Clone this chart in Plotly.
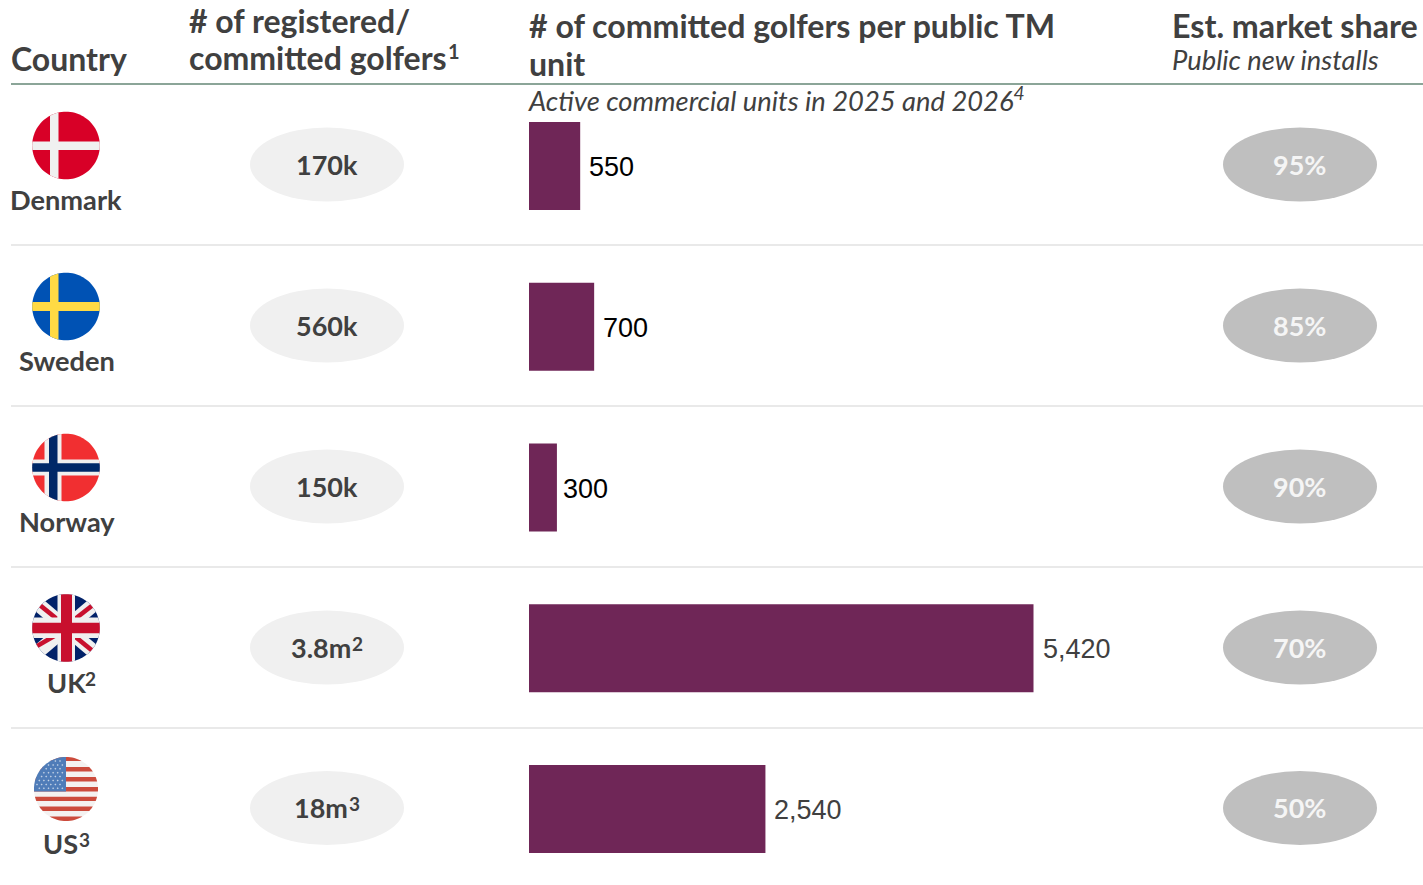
import math
import plotly.graph_objects as go

# Table content
countries = ["Denmark", "Sweden", "Norway", "UK", "US"]
country_labels = ["Denmark", "Sweden", "Norway", "UK", "US"]
country_notes = ["", "", "", "2", "3"]
golfer_labels = ["170k", "560k", "150k", "3.8m", "18m"]
golfer_notes = ["", "", "", "2", "3"]
golfers_per_unit = [550, 700, 300, 5420, 2540]
unit_labels = ["550", "700", "300", "5,420", "2,540"]
unit_label_colors = ["#000000", "#000000", "#000000", "#404040", "#404040"]
market_share = ["95%", "85%", "90%", "70%", "50%"]

W, H = 1423, 885
BAR_LEFT = 529
PX_PER_UNIT = 504.5 / 5420
ROW_TOP = 166
ROW_STEP = 160.75

TEXT = "#404040"
LATO = "Lato"


def polygon(points, color):
    """Filled shape on the page-sized overlay axes."""
    d = "M" + "L".join(f"{x:.2f},{y:.2f}" for x, y in points) + "Z"
    return dict(type="path", path=d, xref="x2", yref="y2", fillcolor=color,
                line=dict(width=0), layer="above")


def clip_to_circle(points, cx, cy, r, n=96):
    """Clip a convex polygon against a fine regular polygon standing in for a circle."""
    out = list(points)
    for k in range(n):
        a = 2 * math.pi * (k + 0.5) / n
        nx, ny = math.cos(a), math.sin(a)

        def reach(p):
            return (p[0] - cx) * nx + (p[1] - cy) * ny - r

        new = []
        for i, cur in enumerate(out):
            prev = out[i - 1]
            dc, dp = reach(cur), reach(prev)
            if (dc <= 0) != (dp <= 0):
                t = dp / (dp - dc)
                new.append((prev[0] + t * (cur[0] - prev[0]), prev[1] + t * (cur[1] - prev[1])))
            if dc <= 0:
                new.append(cur)
        out = new
        if not out:
            break
    return out


def rect(x0, y0, x1, y1):
    return [(x0, y0), (x1, y0), (x1, y1), (x0, y1)]


def band(x0, y0, x1, y1, half):
    """Quadrilateral of half-width `half` along a segment."""
    dx, dy = x1 - x0, y1 - y0
    ln = math.hypot(dx, dy)
    ox, oy = -dy / ln * half, dx / ln * half
    return [(x0 + ox, y0 + oy), (x1 + ox, y1 + oy), (x1 - ox, y1 - oy), (x0 - ox, y0 - oy)]


def flag(layers, cx, cy, r):
    shapes = []
    for pts, color in layers:
        clipped = clip_to_circle(pts, cx, cy, r)
        if len(clipped) > 2:
            shapes.append(polygon(clipped, color))
    return shapes


shapes = []
BIG = 200


def full(cy, cx=66):
    return rect(cx - BIG, cy - BIG, cx + BIG, cy + BIG)


# Nordic crosses
cy = 145.5
shapes += flag([
    (full(cy), "#D80027"),
    (rect(50, cy - BIG, 58.5, cy + BIG), "#F0F0F0"),
    (rect(-BIG, 141.5, BIG, 150), "#F0F0F0"),
], 66, cy, 33.8)

cy = 306.5
shapes += flag([
    (full(cy), "#0052B4"),
    (rect(50, cy - BIG, 58.5, cy + BIG), "#FFDA44"),
    (rect(-BIG, 302, BIG, 311), "#FFDA44"),
], 66, cy, 33.8)

cy = 467.5
shapes += flag([
    (full(cy), "#F12F31"),
    (rect(44.5, cy - BIG, 61.5, cy + BIG), "#F0F0F0"),
    (rect(-BIG, 459.5, BIG, 475.5), "#F0F0F0"),
    (rect(49, cy - BIG, 57.5, cy + BIG), "#002868"),
    (rect(-BIG, 463.3, BIG, 471.7), "#002868"),
], 66, cy, 33.8)

# Union flag
cy = 628
uk = [(full(cy), "#012169")]
for sx, sy in [(1, 1), (1, -1)]:
    uk.append((band(66 - 40 * sx, cy - 34 * sy, 66 + 40 * sx, cy + 34 * sy, 7), "#F0F0F0"))
for x0, y0, x1, y1 in [(-9.3, -9.3, -40, -34), (9.3, -9.3, 40, -33),
                       (-11.7, 8, -40, 24.5), (8.3, 8, 40, 34)]:
    uk.append((band(66 + x0, cy + y0, 66 + x1, cy + y1, 2.3), "#C8102E"))
uk += [
    (rect(57.5, cy - BIG, 75, cy + BIG), "#F0F0F0"),
    (rect(-BIG, cy - 10.5, BIG, cy + 10), "#F0F0F0"),
    (rect(61, cy - BIG, 72, cy + BIG), "#C8102E"),
    (rect(-BIG, cy - 5.3, BIG, cy + 5.3), "#C8102E"),
]
shapes += flag(uk, 66, cy, 33.8)

# Stars and stripes
cy = 789
us = [(full(cy), "#F4F1F0")]
for top, bottom in [(756, 761), (767, 771.5), (777, 781.5), (787, 791.5),
                    (796.7, 801), (806.5, 811), (816.5, 822)]:
    us.append((rect(-BIG, top, BIG, bottom), "#CC4B3C"))
us.append((rect(-BIG, 750, 66, 791.5), "#4F7CB8"))
shapes += flag(us, 66, cy, 32)
for row in range(8):
    for col in range(7):
        sx = 37 + col * 4.6 + (2.3 if row % 2 else 0)
        sy = 761 + row * 3.9
        if math.hypot(sx - 66, sy - cy) < 30 and sx < 64.5 and sy < 790:
            shapes.append(polygon([(sx, sy - 1), (sx + 1, sy), (sx, sy + 1), (sx - 1, sy)], "#C4D3E6"))

# Header rule and row dividers
shapes.append(dict(type="line", x0=11, x1=W, y0=84, y1=84, xref="x2", yref="y2",
                   line=dict(color="#8BA598", width=2), layer="below"))
for y in [245, 406, 567, 728]:
    shapes.append(dict(type="line", x0=11, x1=W, y0=y, y1=y, xref="x2", yref="y2",
                       line=dict(color="#E2E2E2", width=1.5), layer="below"))

# Value pills
for y in [164.5, 325.5, 486.5, 647.5, 808]:
    shapes.append(dict(type="circle", x0=250, x1=404, y0=y - 37, y1=y + 37, xref="x2", yref="y2",
                       fillcolor="#F0F0F0", line=dict(width=0), layer="below"))
    shapes.append(dict(type="circle", x0=1223, x1=1377, y0=y - 37, y1=y + 37, xref="x2", yref="y2",
                       fillcolor="#BFBFBF", line=dict(width=0), layer="below"))


def note(x, y, text, size, color=TEXT, weight=400, anchor="left", italic=False):
    return dict(x=x, y=y, xref="x2", yref="y2", text=text, showarrow=False, xanchor=anchor,
                yanchor="middle", align=anchor,
                font=dict(family=LATO, size=size, color=color, weight=weight,
                          style="italic" if italic else "normal"))


annotations = [
    note(9, 58, "Country", 32, weight=700),
    note(187, 20, "# of registered/", 32, weight=700),
    note(187, 57, "committed golfers", 32, weight=700),
    note(445.5, 51, "1", 20, weight=700),
    note(527, 25, "# of committed golfers per public TM", 32.1, weight=700),
    note(527, 63, "unit", 32.1, weight=700),
    note(526, 99, "Active commercial units in 2025 and 2026<sup>4</sup>", 27.35, italic=True),
    note(1170, 25, "Est. market share", 32.2, weight=700),
    note(1170, 59, "Public new installs", 27.3, italic=True),
]
# Country names, with reference marks set as small raised digits beside them
for x, y, name, mark, mx in zip([66, 66.5, 66.5, 44.5, 41], [199, 360, 521, 682, 843],
                                country_labels, country_notes, [0, 0, 0, 83, 76.5]):
    annotations.append(note(x, y, name, 27.2, weight=700, anchor="left" if mark else "center"))
    if mark:
        annotations.append(note(mx, y - 4, mark, 19, weight=700))
for y, g, mark, gx, mx, m in zip([164.5, 325.5, 486.5, 647.5, 807.5], golfer_labels, golfer_notes,
                                 [327, 327, 327, 289, 292], [0, 0, 0, 349.5, 346.5], market_share):
    annotations.append(note(gx, y, g, 27, weight=700, anchor="left" if mark else "center"))
    if mark:
        annotations.append(note(mx, y - 4, mark, 19, weight=700))
    annotations.append(note(1299, y, m, 27, color="#F5F5F5", weight=700, anchor="center"))
# Value labels beside the bars
for name, value, label, color, nudge in zip(countries, golfers_per_unit, unit_labels,
                                            unit_label_colors, [7, 7, 4, 7, 7]):
    annotations.append(dict(x=value, y=name, xref="x", yref="y", text=label, showarrow=False,
                            xanchor="left", yanchor="middle", xshift=nudge, yshift=-1,
                            font=dict(family="Liberation Sans", size=27, color=color)))

fig = go.Figure(go.Bar(
    x=golfers_per_unit, y=countries, orientation="h", marker=dict(color="#6F2657", line=dict(width=0)),
    width=88 / ROW_STEP, hoverinfo="x+y", cliponaxis=False,
))
# Invisible trace that brings up the page-sized overlay axes
fig.add_trace(go.Scatter(x=[0, W], y=[0, H], xaxis="x2", yaxis="y2", mode="markers",
                         marker=dict(opacity=0), hoverinfo="skip", showlegend=False))

fig.update_layout(
    width=W, height=H, margin=dict(l=0, r=0, t=0, b=0), autosize=False,
    paper_bgcolor="#FFFFFF", plot_bgcolor="rgba(0,0,0,0)", showlegend=False,
    xaxis=dict(domain=[BAR_LEFT / W, 1], range=[0, (W - BAR_LEFT) / PX_PER_UNIT], visible=False, fixedrange=True),
    yaxis=dict(domain=[0, 1], type="category", categoryorder="array", categoryarray=countries,
               range=[(H - ROW_TOP) / ROW_STEP, -ROW_TOP / ROW_STEP], visible=False, fixedrange=True),
    xaxis2=dict(domain=[0, 1], range=[0, W], visible=False, fixedrange=True, anchor="y2"),
    yaxis2=dict(domain=[0, 1], range=[H, 0], visible=False, fixedrange=True, anchor="x2"),
    shapes=shapes, annotations=annotations,
)

fig.write_html("out.html")
